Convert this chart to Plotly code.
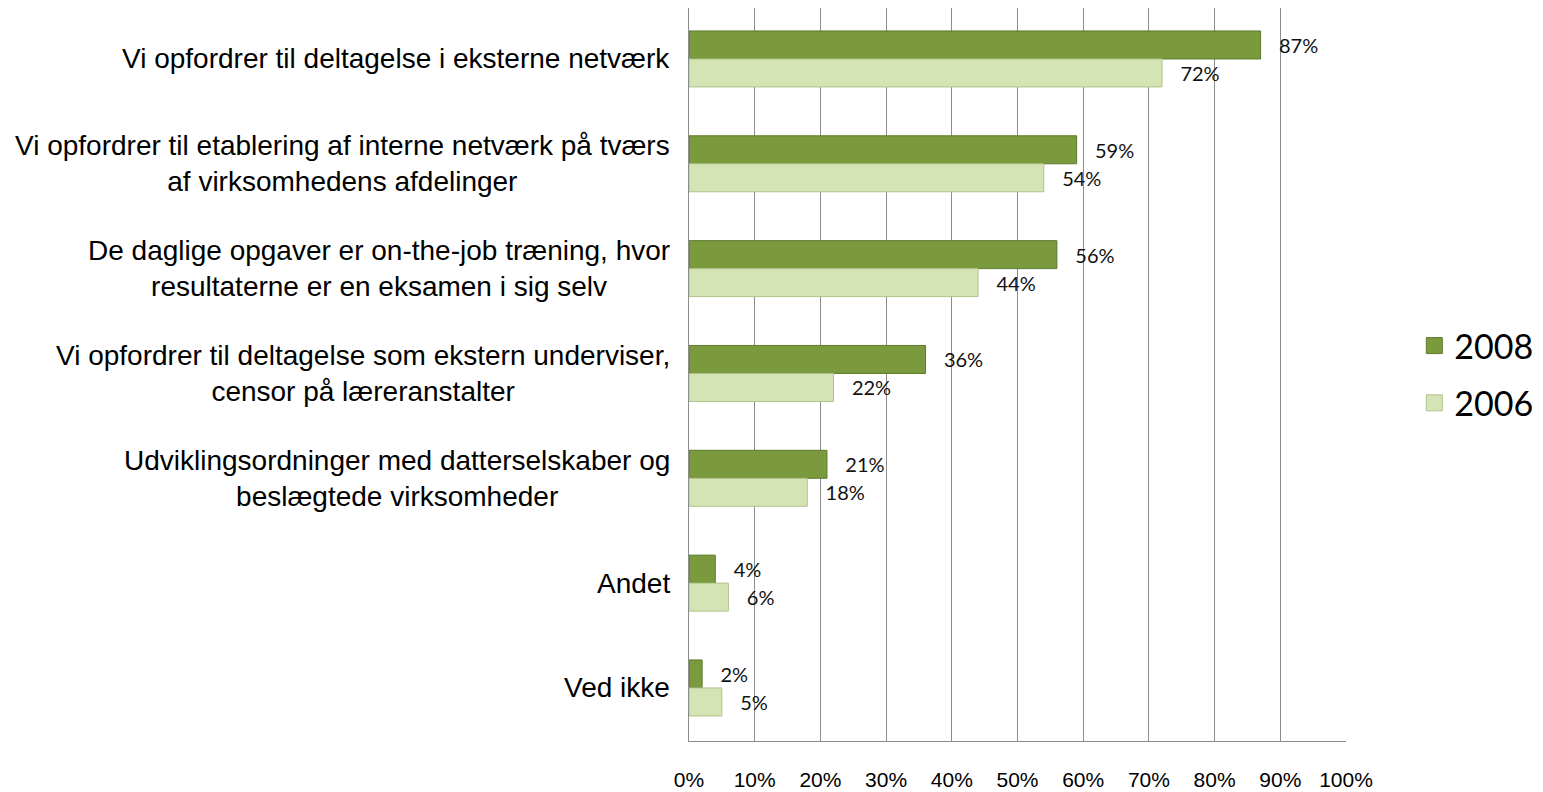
import plotly.graph_objects as go

categories = [
    "Vi opfordrer til deltagelse i eksterne netværk",
    "Vi opfordrer til etablering af interne netværk på tværs<br>af virksomhedens afdelinger",
    "De daglige opgaver er on-the-job træning, hvor<br>resultaterne er en eksamen i sig selv",
    "Vi opfordrer til deltagelse som ekstern underviser,<br>censor på læreranstalter",
    "Udviklingsordninger med datterselskaber og<br>beslægtede virksomheder",
    "Andet",
    "Ved ikke",
]
values_2008 = [87, 59, 56, 36, 21, 4, 2]
values_2006 = [72, 54, 44, 22, 18, 6, 5]
tick_vals = [0, 10, 20, 30, 40, 50, 60, 70, 80, 90, 100]
tick_text = [f"{v}%" for v in tick_vals]

DARK = "#7B9A3E"
LIGHT = "#D5E4B5"
keys = [f"c{i}" for i in range(len(categories))]

fig = go.Figure()
fig.add_trace(go.Bar(
    y=keys, x=values_2008, orientation="h", name="2008", showlegend=False,
    marker=dict(color=DARK, line=dict(color="#5D7A2B", width=1)),
    text=["\u00a0\u00a0\u00a0" + f"{v}%" for v in values_2008], textposition="outside",
    textfont=dict(family="Lato", size=20, color="#111111"), cliponaxis=False,
))
fig.add_trace(go.Bar(
    y=keys, x=values_2006, orientation="h", name="2006", showlegend=False,
    marker=dict(color=LIGHT, line=dict(color="#AFC388", width=1)),
    text=["\u00a0\u00a0\u00a0" + f"{v}%" for v in values_2006], textposition="outside",
    textfont=dict(family="Lato", size=20, color="#111111"), cliponaxis=False,
))

# legend entries with larger square markers
for name, col, line in [("2008", DARK, "#5D7A2B"), ("2006", LIGHT, "#AFC388")]:
    fig.add_trace(go.Scatter(
        x=[None], y=[None], mode="markers", name=name, legendgroup=name,
        marker=dict(symbol="square", size=16, color=col, line=dict(color=line, width=1)),
    ))

# category labels, centred multi-line text
for key, label in zip(keys, categories):
    fig.add_annotation(
        x=0, xref="paper", y=key, yref="y", text=label, showarrow=False,
        xanchor="right", align="center", xshift=-17,
        font=dict(family="Liberation Sans", size=28, color="#000000"),
    )

# page body adds an 8px offset, so the figure is 8px smaller than the window
fig.update_layout(
    width=1535, height=784,
    margin=dict(l=681, r=197, t=0, b=51),
    paper_bgcolor="white", plot_bgcolor="white",
    barmode="group", bargap=0.466, bargroupgap=0,
    showlegend=True,
    legend=dict(
        x=1.104, y=0.5, xanchor="left", yanchor="middle",
        font=dict(family="Lato", size=34, color="#000000"),
        traceorder="grouped", tracegroupgap=10, itemsizing="trace",
    ),
    xaxis=dict(
        range=[0, 100], tickvals=tick_vals, ticktext=tick_text,
        showgrid=True, gridcolor="#8C8C8C", gridwidth=1,
        showline=True, linecolor="#8C8C8C", linewidth=1, mirror=False,
        zeroline=False, ticks="", ticklabelstandoff=20,
        tickfont=dict(family="Liberation Sans", size=21, color="#000000"),
    ),
    yaxis=dict(
        type="category", categoryorder="array", categoryarray=keys,
        range=[6.506, -0.486], showticklabels=False, showgrid=False,
        showline=True, linecolor="#8C8C8C", linewidth=1, ticks="",
    ),
)

fig.write_html("out.html")
